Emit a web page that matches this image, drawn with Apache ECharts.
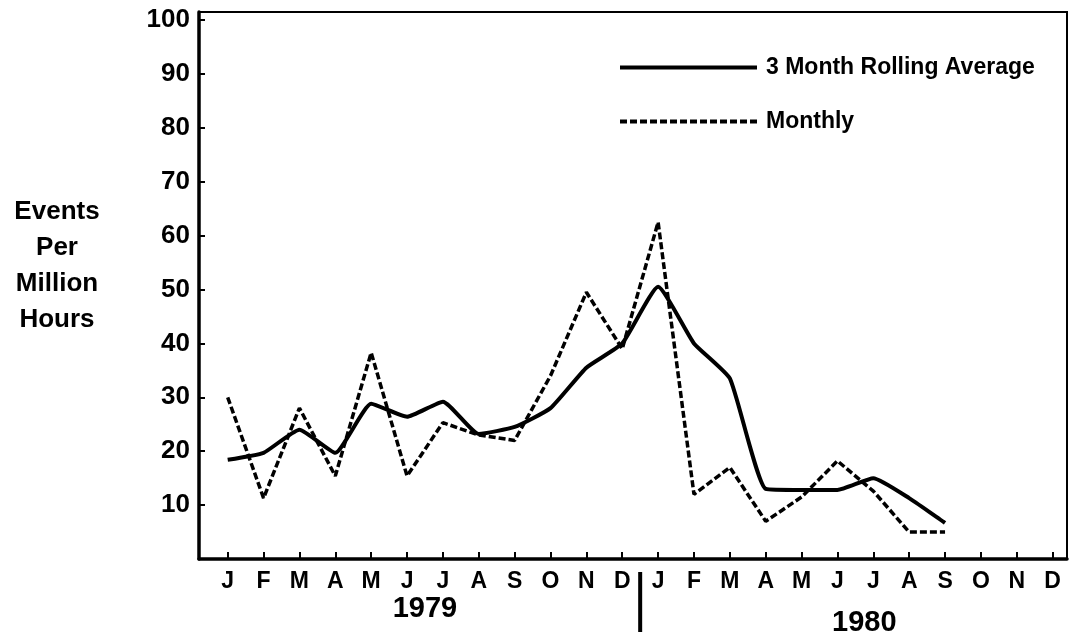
<!DOCTYPE html>
<html>
<head>
<meta charset="utf-8">
<script src="https://cdn.jsdelivr.net/npm/echarts@6/dist/echarts.min.js"></script>
<style>
  html, body { margin: 0; padding: 0; background: #fff; }
  #main { width: 1072px; height: 644px; }
</style>
</head>
<body>
<div id="main"></div>
<script>
'use strict'
// month letters, two years
let months = ['J','F','M','A','M','J','J','A','S','O','N','D',
              'J','F','M','A','M','J','J','A','S','O','N','D'];
let years = ['1979', '1980'];
let yTicks = [10, 20, 30, 40, 50, 60, 70, 80, 90, 100];
// events per million hours, Jan 1979 .. Sep 1980
let monthly = [30, 11.3, 28, 15.4, 38.3, 15.4, 25.3, 23, 22, 34, 49.5, 39,
               62.5, 12, 17, 7, 11.5, 18.2, 12.6, 5, 5];
let rolling = [18.4, 19.7, 24, 19.7, 28.8, 26.4, 29.2, 23.2, 24.5, 28, 35.5, 40,
               50.5, 40, 33.5, 13, 12.8, 12.8, 15, 11.3, 6.7];

let font = 'Liberation Sans, Arial, sans-serif';
let chart = echarts.init(document.getElementById('main'));
let idx = months.map((m, i) => i);

let option = {
	animation: false,
	color: ['#000', '#000'],
	grid: {
		left: 199, right: 5, top: 12, bottom: 85,
		show: true, borderColor: '#000', borderWidth: 2, backgroundColor: 'transparent'
	},
	legend: {
		orient: 'vertical',
		left: 613, top: 51,
		itemWidth: 137, itemHeight: 20, itemGap: 31,
		itemStyle: { opacity: 0 },
		lineStyle: { width: 4 },
		textStyle: { fontFamily: font, fontSize: 23, fontWeight: 'bold', color: '#000', padding: [0, 0, 0, 4] },
		data: ['3 Month Rolling Average', 'Monthly']
	},
	xAxis: {
		type: 'value',
		min: -0.8, max: 23.4,
		axisLine: { onZero: false, lineStyle: { color: '#000', width: 3.5 } },
		axisTick: { inside: true, length: 7, customValues: idx, lineStyle: { color: '#000', width: 2 } },
		axisLabel: {
			customValues: idx, margin: 11,
			formatter: v => months[Math.round(v)],
			fontFamily: font, fontSize: 23, fontWeight: 'bold', color: '#000'
		},
		splitLine: { show: false }
	},
	yAxis: {
		type: 'value',
		min: 0, max: 101.5,
		axisLine: { show: true, onZero: false, lineStyle: { color: '#000', width: 3.5 } },
		axisTick: { inside: true, length: 6, customValues: yTicks, lineStyle: { color: '#000', width: 2 } },
		axisLabel: {
			customValues: yTicks, margin: 9,
			fontFamily: font, fontSize: 26, fontWeight: 'bold', color: '#000'
		},
		splitLine: { show: false }
	},
	series: [{
		name: '3 Month Rolling Average',
		type: 'line',
		symbol: 'none',
		smooth: 0.15,
		lineStyle: { color: '#000', width: 4 },
		data: rolling.map((v, i) => [i, v])
	}, {
		name: 'Monthly',
		type: 'line',
		symbol: 'none',
		lineStyle: { color: '#000', width: 3.5, type: [7, 3] },
		data: monthly.map((v, i) => [i, v])
	}]
};
chart.setOption(option);

// year captions and the divider under the axis, placed through the axis scale
let p1979 = chart.convertToPixel({ gridIndex: 0 }, [5.5, 0]);
let p1980 = chart.convertToPixel({ gridIndex: 0 }, [17.75, 0]);
let pDiv = chart.convertToPixel({ gridIndex: 0 }, [11.5, 0]);
chart.setOption({
	graphic: [{
		type: 'text', x: 57, y: 266,
		style: {
			text: 'Events\nPer\nMillion\nHours', align: 'center', verticalAlign: 'middle',
			font: 'bold 26px ' + font, lineHeight: 36, fill: '#000'
		}
	}, {
		type: 'text', x: p1979[0], y: p1979[1] + 50,
		style: { text: years[0], align: 'center', verticalAlign: 'middle', font: 'bold 29px ' + font, fill: '#000' }
	}, {
		type: 'text', x: p1980[0], y: p1980[1] + 64,
		style: { text: years[1], align: 'center', verticalAlign: 'middle', font: 'bold 29px ' + font, fill: '#000' }
	}, {
		type: 'line',
		shape: { x1: pDiv[0], y1: pDiv[1] + 13, x2: pDiv[0], y2: pDiv[1] + 73 },
		style: { stroke: '#000', lineWidth: 4 }
	}]
});
</script>
</body>
</html>
